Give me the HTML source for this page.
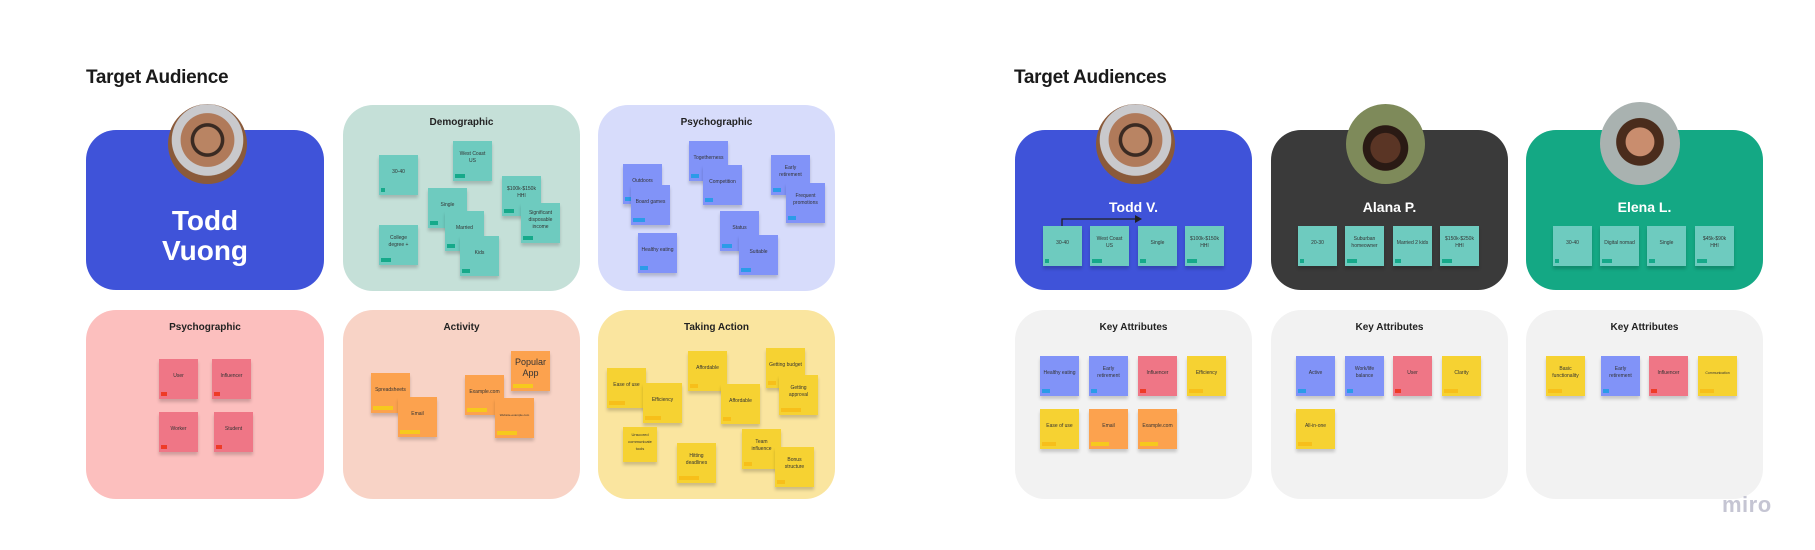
<!DOCTYPE html>
<html><head><meta charset="utf-8"><style>
body{margin:0;width:1815px;height:550px;background:#fff;position:relative;overflow:hidden;font-family:"Liberation Sans",sans-serif}
.a{position:absolute}
.t{position:absolute;font-weight:bold;font-size:19px;color:#1a1a1a;letter-spacing:-0.3px}
.c{position:absolute;border-radius:30px}
.h{position:absolute;width:100%;text-align:center;font-size:10px;font-weight:bold;color:#222;top:12px;left:0}
.s{position:absolute;width:39px;height:40px;box-shadow:0 3px 3px rgba(0,0,0,.18);font-size:5px;line-height:7px;color:#333;display:flex;align-items:center;justify-content:center;text-align:center;box-sizing:border-box;padding:0 3px 6px}
.s i{position:absolute;left:2px;bottom:3px;width:8px;height:4px}
.g{background:#6ecbbf}.g i{background:#16a98a}
.b{background:#8193f8}.b i{background:#2b9be8}
.p{background:#ef7686}.p i{background:#ee3b27}
.o{background:#fca24e}.o i{background:#f6c91d}
.y{background:#f6d232}.y i{background:#f7bf1a}
.ph{position:absolute;width:79px;height:80px;border-radius:50%;overflow:hidden}
.n{position:absolute;color:#fff;font-weight:bold;text-align:center;width:100%;left:0}
</style></head><body>

<div class="t" style="left:86px;top:67px">Target Audience</div>
<div class="t" style="left:1014px;top:67px">Target Audiences</div>

<!-- Left top row -->
<div class="c" style="left:86px;top:130px;width:238px;height:160px;background:#3f53d9"></div>
<div class="n" style="left:86px;width:238px;top:206px;font-size:28px;line-height:30px">Todd<br>Vuong</div>
<div class="ph" style="left:168px;top:104px;background:radial-gradient(circle at 50% 45%,#b98463 0 22%,#3a2a22 23% 28%,#b07a5a 29% 45%,#c9c9cc 46% 60%,#8a5a3a 61%)"></div>

<div class="c" style="left:343px;top:105px;width:237px;height:186px;background:#c5e0d8"><div class="h">Demographic</div></div>
<div class="s g" style="left:379px;top:155px">30-40<i style="width:4px"></i></div>
<div class="s g" style="left:453px;top:141px">West Coast US<i style="width:10px"></i></div>
<div class="s g" style="left:502px;top:176px">$100k-$150k HHI<i style="width:10px"></i></div>
<div class="s g" style="left:428px;top:188px">Single<i></i></div>
<div class="s g" style="left:521px;top:203px">Significant disposable income<i style="width:10px"></i></div>
<div class="s g" style="left:445px;top:211px">Married<i></i></div>
<div class="s g" style="left:379px;top:225px">College degree +<i style="width:10px"></i></div>
<div class="s g" style="left:460px;top:236px">Kids<i></i></div>

<div class="c" style="left:598px;top:105px;width:237px;height:186px;background:#d7dcfb"><div class="h">Psychographic</div></div>
<div class="s b" style="left:689px;top:141px">Togetherness<i></i></div>
<div class="s b" style="left:623px;top:164px">Outdoors<i></i></div>
<div class="s b" style="left:771px;top:155px">Early retirement<i></i></div>
<div class="s b" style="left:703px;top:165px">Competition<i></i></div>
<div class="s b" style="left:631px;top:185px">Board games<i style="width:12px"></i></div>
<div class="s b" style="left:786px;top:183px">Frequent promotions<i></i></div>
<div class="s b" style="left:720px;top:211px">Status<i style="width:10px"></i></div>
<div class="s b" style="left:638px;top:233px">Healthy eating<i></i></div>
<div class="s b" style="left:739px;top:235px">Suitable<i style="width:10px"></i></div>

<!-- Left bottom row -->
<div class="c" style="left:86px;top:310px;width:238px;height:189px;background:#fcbfbe"><div class="h">Psychographic</div></div>
<div class="s p" style="left:159px;top:359px">User<i style="width:6px"></i></div>
<div class="s p" style="left:212px;top:359px">Influencer<i style="width:6px"></i></div>
<div class="s p" style="left:159px;top:412px">Worker<i style="width:6px"></i></div>
<div class="s p" style="left:214px;top:412px">Student<i style="width:6px"></i></div>

<div class="c" style="left:343px;top:310px;width:237px;height:189px;background:#f8d3c6"><div class="h">Activity</div></div>
<div class="s o" style="left:371px;top:373px">Spreadsheets<i style="width:20px"></i></div>
<div class="s o" style="left:398px;top:397px">Email<i style="width:20px"></i></div>
<div class="s o" style="left:465px;top:375px">Example.com<i style="width:20px"></i></div>
<div class="s o" style="left:511px;top:351px;font-size:9px;line-height:11px">Popular App<i style="width:20px"></i></div>
<div class="s o" style="left:495px;top:398px;font-size:3px">Website-example.com<i style="width:20px"></i></div>

<div class="c" style="left:598px;top:310px;width:237px;height:189px;background:#fae59f"><div class="h">Taking Action</div></div>
<div class="s y" style="left:607px;top:368px">Ease of use<i style="width:16px"></i></div>
<div class="s y" style="left:688px;top:351px">Affordable<i></i></div>
<div class="s y" style="left:766px;top:348px">Getting budget<i></i></div>
<div class="s y" style="left:643px;top:383px">Efficiency<i style="width:16px"></i></div>
<div class="s y" style="left:721px;top:384px">Affordable<i></i></div>
<div class="s y" style="left:779px;top:375px">Getting approval<i style="width:20px"></i></div>
<div class="s y" style="left:623px;top:427px;width:34px;height:35px;font-size:4px">Unscored communicate tools</div>
<div class="s y" style="left:677px;top:443px">Hitting deadlines<i style="width:20px"></i></div>
<div class="s y" style="left:742px;top:429px">Team influence<i></i></div>
<div class="s y" style="left:775px;top:447px">Bonus structure<i></i></div>

<!-- Right top row -->
<div class="c" style="left:1015px;top:130px;width:237px;height:160px;background:#3f53d9"></div>
<div class="n" style="left:1015px;width:237px;top:199px;font-size:14px">Todd V.</div>
<div class="ph" style="left:1096px;top:104px;background:radial-gradient(circle at 50% 45%,#b98463 0 22%,#3a2a22 23% 28%,#b07a5a 29% 45%,#c9c9cc 46% 60%,#8a5a3a 61%)"></div>
<svg class="a" style="left:1055px;top:212px" width="100" height="16"><path d="M7 14 V7 H84" stroke="#222" stroke-width="1.3" fill="none"/><path d="M80 3 L87 7 L80 11 Z" fill="#222"/></svg>
<div class="s g" style="left:1043px;top:226px">30-40<i style="width:4px"></i></div>
<div class="s g" style="left:1090px;top:226px">West Coast US<i style="width:10px"></i></div>
<div class="s g" style="left:1138px;top:226px">Single<i style="width:6px"></i></div>
<div class="s g" style="left:1185px;top:226px">$100k-$150k HHI<i style="width:10px"></i></div>

<div class="c" style="left:1271px;top:130px;width:237px;height:160px;background:#3a3a3a"></div>
<div class="n" style="left:1271px;width:237px;top:199px;font-size:14px">Alana P.</div>
<div class="ph" style="left:1346px;top:104px;background:radial-gradient(circle at 50% 55%,#5a3525 0 25%,#2a1a14 26% 38%,#7e8a5a 39%)"></div>
<div class="s g" style="left:1298px;top:226px">20-30<i style="width:4px"></i></div>
<div class="s g" style="left:1345px;top:226px">Suburban homeowner<i style="width:10px"></i></div>
<div class="s g" style="left:1393px;top:226px">Married 2 kids<i style="width:6px"></i></div>
<div class="s g" style="left:1440px;top:226px">$150k-$250k HHI<i style="width:10px"></i></div>

<div class="c" style="left:1526px;top:130px;width:237px;height:160px;background:#14a884"></div>
<div class="n" style="left:1526px;width:237px;top:199px;font-size:14px">Elena L.</div>
<div class="ph" style="left:1600px;top:102px;width:80px;height:83px;background:radial-gradient(circle at 50% 48%,#c98d6e 0 24%,#4a2c1c 25% 40%,#a9b2b0 41%)"></div>
<div class="s g" style="left:1553px;top:226px">30-40<i style="width:4px"></i></div>
<div class="s g" style="left:1600px;top:226px">Digital nomad<i style="width:10px"></i></div>
<div class="s g" style="left:1647px;top:226px">Single<i style="width:6px"></i></div>
<div class="s g" style="left:1695px;top:226px">$45k-$90k HHI<i style="width:10px"></i></div>

<!-- Right bottom row -->
<div class="c" style="left:1015px;top:310px;width:237px;height:189px;background:#f2f2f2"><div class="h">Key Attributes</div></div>
<div class="s b" style="left:1040px;top:356px">Healthy eating<i></i></div>
<div class="s b" style="left:1089px;top:356px">Early retirement<i style="width:6px"></i></div>
<div class="s p" style="left:1138px;top:356px">Influencer<i style="width:6px"></i></div>
<div class="s y" style="left:1187px;top:356px">Efficiency<i style="width:14px"></i></div>
<div class="s y" style="left:1040px;top:409px">Ease of use<i style="width:14px"></i></div>
<div class="s o" style="left:1089px;top:409px">Email<i style="width:18px"></i></div>
<div class="s o" style="left:1138px;top:409px">Example.com<i style="width:18px"></i></div>

<div class="c" style="left:1271px;top:310px;width:237px;height:189px;background:#f2f2f2"><div class="h">Key Attributes</div></div>
<div class="s b" style="left:1296px;top:356px">Active<i></i></div>
<div class="s b" style="left:1345px;top:356px">Work/life balance<i style="width:6px"></i></div>
<div class="s p" style="left:1393px;top:356px">User<i style="width:6px"></i></div>
<div class="s y" style="left:1442px;top:356px">Clarity<i style="width:14px"></i></div>
<div class="s y" style="left:1296px;top:409px">All-in-one<i style="width:14px"></i></div>

<div class="c" style="left:1526px;top:310px;width:237px;height:189px;background:#f2f2f2"><div class="h">Key Attributes</div></div>
<div class="s y" style="left:1546px;top:356px">Basic functionality<i style="width:14px"></i></div>
<div class="s b" style="left:1601px;top:356px">Early retirement<i style="width:6px"></i></div>
<div class="s p" style="left:1649px;top:356px">Influencer<i style="width:6px"></i></div>
<div class="s y" style="left:1698px;top:356px;font-size:3.5px">Communication<i style="width:14px"></i></div>

<div class="a" style="left:1722px;top:492px;font-size:22px;color:#c5c5d3;font-weight:bold;letter-spacing:0.5px">miro</div>
</body></html>
